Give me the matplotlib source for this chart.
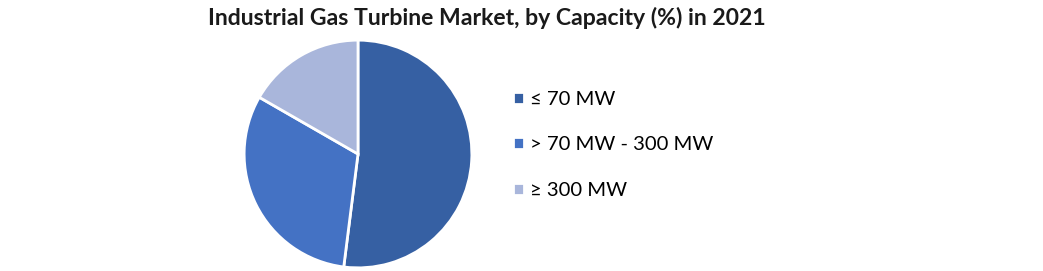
import numpy as np
import matplotlib.pyplot as plt

title = "Industrial Gas Turbine Market, by Capacity (%) in 2021"
labels = ["≤ 70 MW", "> 70 MW - 300 MW", "≥ 300 MW"]
shares = [52.0, 31.3, 16.7]
colors = ["#3660A3", "#4472C4", "#A9B6DB"]

W, H = 1043, 271
fig = plt.figure(figsize=(W / 100, H / 100), dpi=100)

# pie axes: centre (358, 154) px, radius 115 px
cx, cy, r = 358, 154, 115
ax = fig.add_axes([(cx - r) / W, (H - cy - r) / H, 2 * r / W, 2 * r / H])
wedges, _ = ax.pie(shares, colors=colors, startangle=90, counterclock=False,
                   wedgeprops=dict(edgecolor="white", linewidth=2))
ax.set_xlim(-1.01, 1.01)
ax.set_ylim(-1.01, 1.01)
ax.set_aspect("equal")

fig.text(487 / W, 1 - 18 / H, title, ha="center", va="center",
         fontsize=16.6, fontweight="bold", family="Lato", color="#1a1a1a")

fig.legend(wedges, labels, loc="center left", bbox_to_anchor=(495 / W, 1 - 145 / H),
           frameon=False, handlelength=0.55, handleheight=0.55, handletextpad=0.3,
           labelspacing=1.4, prop=dict(family="Lato", size=14.6))

fig.savefig("out.png", dpi=100)
